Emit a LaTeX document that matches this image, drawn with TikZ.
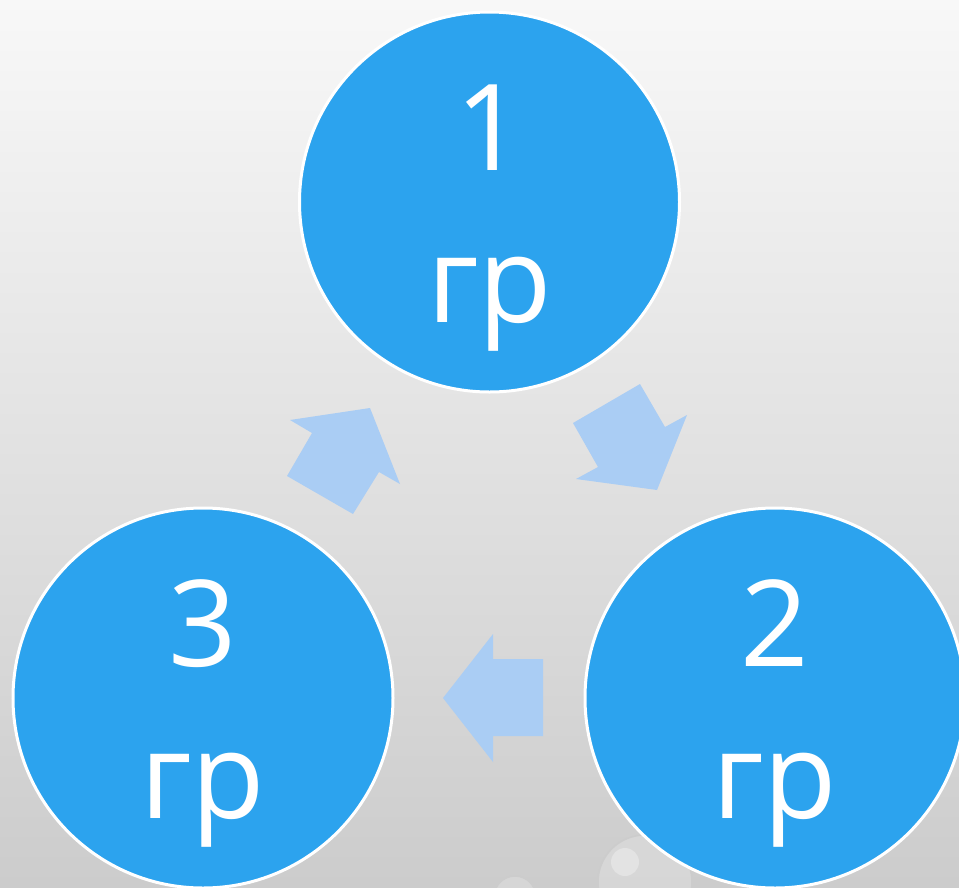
\documentclass[tikz,border=0pt]{standalone}
\usepackage{fontspec}
\setmainfont{Open Sans}
\usetikzlibrary{shadings}
\definecolor{circblue}{RGB}{44,163,238}
\definecolor{arrblue}{RGB}{170,205,244}
\definecolor{bgtop}{RGB}{248,248,248}
\definecolor{bgbot}{RGB}{204,204,204}
\tikzset{
  grp/.style={circle, minimum size=380pt, inner sep=0pt, fill=circblue, draw=white, line width=3pt},
  lbl/.style={anchor=base, text=white, inner sep=0pt, font=\fontsize{120}{120}\selectfont},
  blockarrow/.style={fill=arrblue, draw=none},
  drop/.style={draw=gray!40, line width=1.5pt, fill=white, fill opacity=0.2}
}
\begin{document}
\begin{tikzpicture}[x=1pt,y=-1pt]
\useasboundingbox (0,0) rectangle (959,887);
\clip (0,0) rectangle (959,887);
\shade[top color=bgtop, bottom color=bgbot] (0,0) rectangle (959,887);
% water drops
\draw[drop] (645,882) circle (47);
\fill[white, opacity=0.3] (625,862) circle (14);
\draw[drop] (515,897) circle (21);
% circles
\node[grp] (c1) at (489.5,202) {};
\node[grp] (c2) at (775,698) {};
\node[grp] (c3) at (203,698) {};
% labels
\node[lbl] (t1a) at ([yshift=32pt]c1) {1};
\node[lbl] (t1b) at ([yshift=-120pt]c1) {гр};
\node[lbl] (t2a) at ([yshift=32pt]c2) {2};
\node[lbl] (t2b) at ([yshift=-120pt]c2) {гр};
\node[lbl] (t3a) at ([yshift=32pt]c3) {3};
\node[lbl] (t3b) at ([yshift=-120pt]c3) {гр};
% block arrows
\fill[blockarrow] (573,423) -- (640,384) -- (665,427) -- (687,415) -- (657,490) -- (576,479) -- (598,467) -- cycle;
\fill[blockarrow] (443,698) -- (493,634) -- (493,659) -- (543,659) -- (543,736) -- (493,736) -- (493,762) -- cycle;
\fill[blockarrow] (287,476) -- (312,433) -- (290,420) -- (370,408) -- (400,484) -- (379,472) -- (353,514) -- cycle;
\end{tikzpicture}
\end{document}
